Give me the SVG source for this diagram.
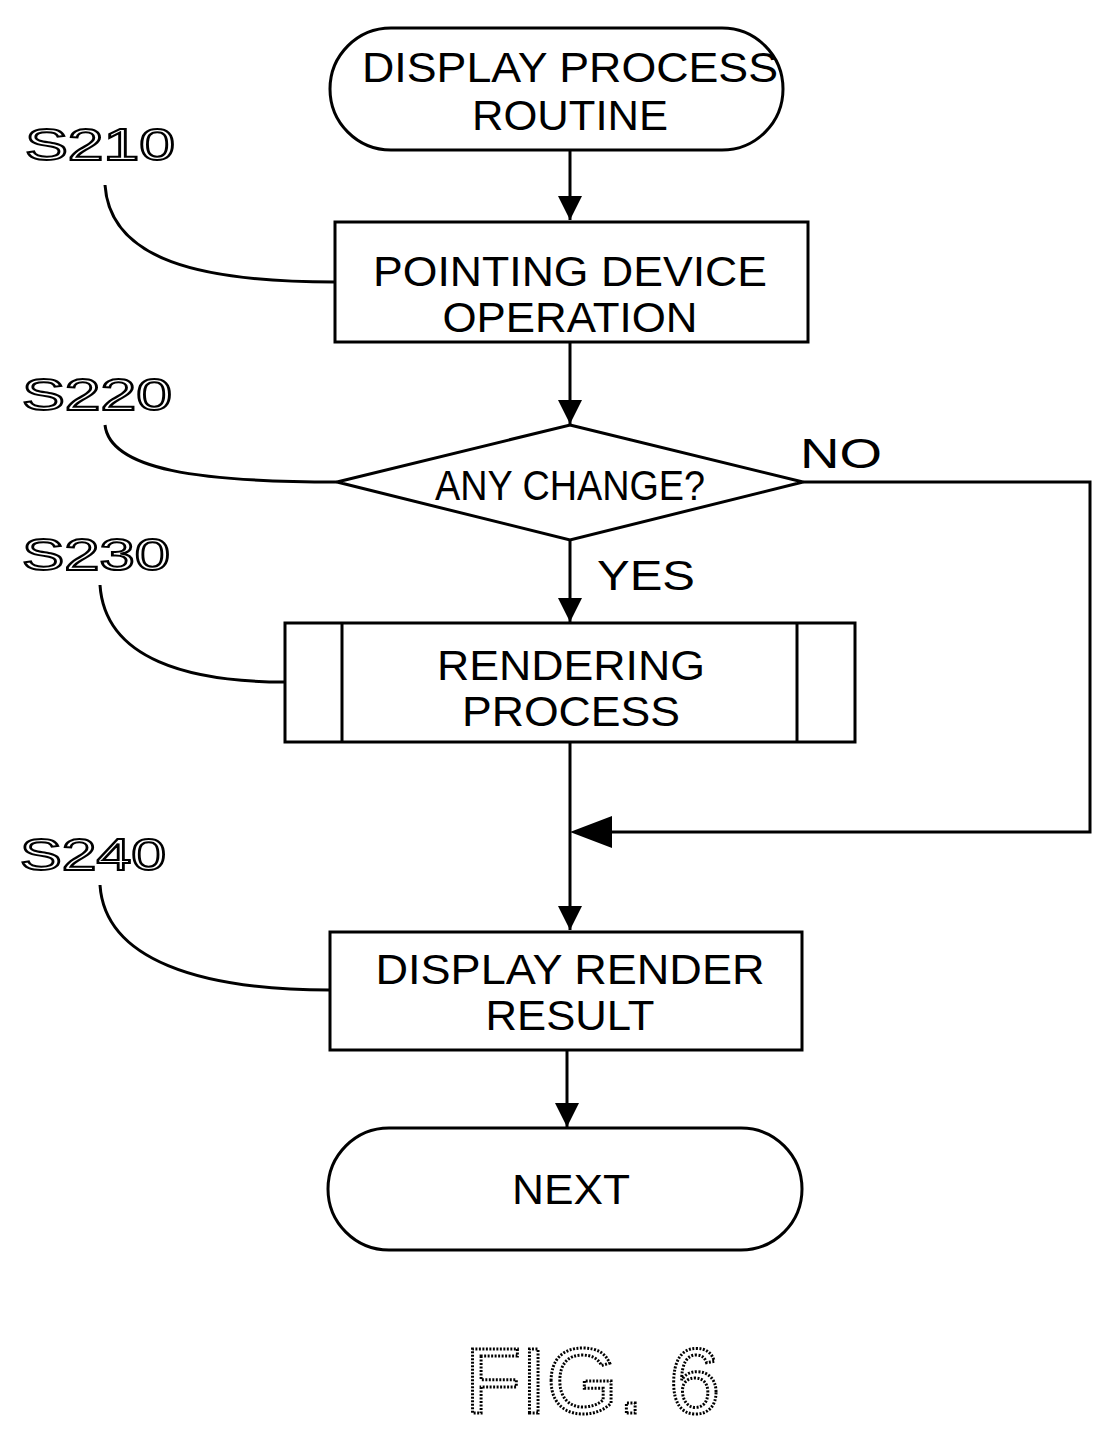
<svg xmlns="http://www.w3.org/2000/svg" width="1117" height="1437" viewBox="0 0 1117 1437">
<style>
.s{fill:#fff;stroke:#000;stroke-width:3}
.l{fill:none;stroke:#000;stroke-width:3}
.t{font-family:"Liberation Sans",Arial,sans-serif;font-size:42px;text-anchor:middle;fill:#000}
.lb{font-family:"Liberation Sans",Arial,sans-serif;font-size:44px;fill:#fff;stroke:#000;stroke-width:2}
</style>
<defs>
<marker id="b" viewBox="0 0 10 10" refX="10" refY="5" markerWidth="8" markerHeight="8" orient="auto"><path d="M0,0L10,5L0,10z"/></marker>
</defs>
<rect width="1117" height="1437" fill="#fff"/>
<g id="connectors">
<line class="l" x1="570" y1="150" x2="570" y2="220" stroke-width="4" marker-end="url(#b)"/>
<line class="l" x1="570" y1="342" x2="570" y2="424" stroke-width="4" marker-end="url(#b)"/>
<line class="l" x1="570" y1="540" x2="570" y2="622" stroke-width="4" marker-end="url(#b)"/>
<line class="l" x1="570" y1="742" x2="570" y2="930" stroke-width="4" marker-end="url(#b)"/>
<line class="l" x1="567" y1="1050" x2="567" y2="1127" stroke-width="2" marker-end="url(#b)"/>
<polyline class="l" points="803,482 1090,482 1090,832 600,832" stroke-width="2"/>
<path d="M570,832L612,816L612,848z"/>
<path class="l" stroke-width="2" d="M105,185C110,260 200,282 335,282"/>
<path class="l" stroke-width="2" d="M105,425C110,470 200,482 337,482"/>
<path class="l" stroke-width="2" d="M100,585C105,660 190,682 285,682"/>
<path class="l" stroke-width="2" d="M100,885C105,960 200,990 330,990"/>
</g>
<g id="start"><rect class="s" x="330" y="28" width="453" height="122" rx="61"/>
<text class="t" x="570" y="82" textLength="416" lengthAdjust="spacingAndGlyphs">DISPLAY PROCESS</text>
<text class="t" x="570" y="130" textLength="196" lengthAdjust="spacingAndGlyphs">ROUTINE</text></g>
<g id="s210"><rect class="s" x="335" y="222" width="473" height="120"/>
<text class="t" x="570" y="286" textLength="394" lengthAdjust="spacingAndGlyphs">POINTING DEVICE</text>
<text class="t" x="570" y="332" textLength="255" lengthAdjust="spacingAndGlyphs">OPERATION</text>
<text class="lb" x="25" y="160" textLength="150" lengthAdjust="spacingAndGlyphs">S210</text></g>
<g id="s220"><polygon class="s" points="570,425 803,482 570,540 337,482"/>
<text class="t" x="570" y="500" font-size="38" textLength="270" lengthAdjust="spacingAndGlyphs">ANY CHANGE?</text>
<text class="lb" x="22" y="410" textLength="150" lengthAdjust="spacingAndGlyphs">S220</text>
<text class="t" x="841" y="468" textLength="82" lengthAdjust="spacingAndGlyphs">NO</text>
<text class="t" x="646" y="590" textLength="98" lengthAdjust="spacingAndGlyphs">YES</text></g>
<g id="s230"><rect class="s" x="285" y="623" width="570" height="119"/>
<line class="l" x1="342" y1="623" x2="342" y2="742"/><line class="l" x1="797" y1="623" x2="797" y2="742"/>
<text class="t" x="571" y="680" textLength="268" lengthAdjust="spacingAndGlyphs">RENDERING</text>
<text class="t" x="571" y="726" textLength="218" lengthAdjust="spacingAndGlyphs">PROCESS</text>
<text class="lb" x="22" y="570" textLength="148" lengthAdjust="spacingAndGlyphs">S230</text></g>
<g id="s240"><rect class="s" x="330" y="932" width="472" height="118"/>
<text class="t" x="570" y="984" textLength="389" lengthAdjust="spacingAndGlyphs">DISPLAY RENDER</text>
<text class="t" x="570" y="1030" textLength="169" lengthAdjust="spacingAndGlyphs">RESULT</text>
<text class="lb" x="20" y="870" textLength="146" lengthAdjust="spacingAndGlyphs">S240</text></g>
<g id="end"><rect class="s" x="328" y="1128" width="474" height="122" rx="61" stroke-width="2"/>
<text class="t" x="571" y="1204" textLength="118" lengthAdjust="spacingAndGlyphs">NEXT</text></g>
<text x="465" y="1413" font-family="Liberation Sans,Arial,sans-serif" font-size="92" fill="#fff" stroke="#000" stroke-width="3" stroke-dasharray="2 1.5" textLength="255" lengthAdjust="spacingAndGlyphs">FIG. 6</text>
</svg>
